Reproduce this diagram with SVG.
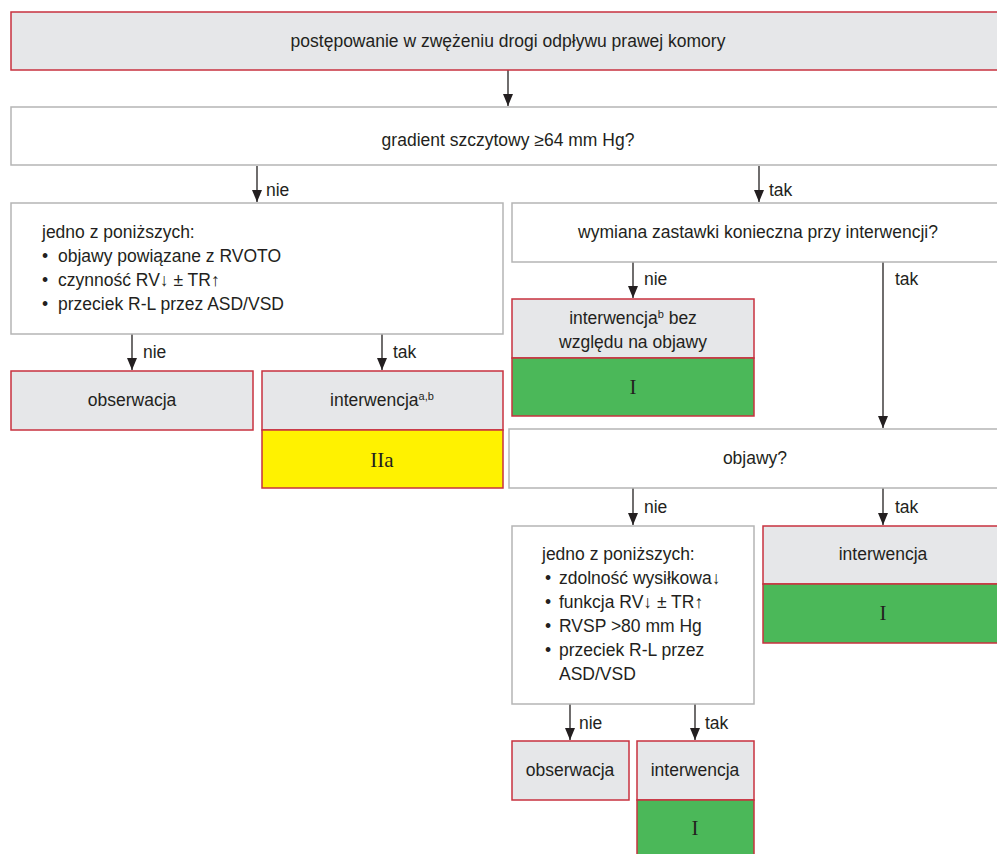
<svg xmlns="http://www.w3.org/2000/svg" width="997" height="854" viewBox="0 0 997 854">
<style>
text{font-family:"Liberation Sans","DejaVu Sans",sans-serif;font-size:17.5px;fill:#231f20}
.c{text-anchor:middle}
.cls{font-family:"Liberation Serif",serif;font-size:21px;text-anchor:middle}
.sup{font-size:11px}
.q{fill:#fff;stroke:#b5b5b5;stroke-width:1.5}
.r{fill:#e6e7e9;stroke:#c8323f;stroke-width:1.5}
.g{fill:#4bb859;stroke:#c8323f;stroke-width:1.5}
.y{fill:#fff200;stroke:#c8323f;stroke-width:1.5}
.ln{stroke:#231f20;stroke-width:1.3;fill:none;marker-end:url(#ah)}
</style>
<defs>
<marker id="ah" viewBox="0 0 12 10" refX="12" refY="5" markerWidth="12" markerHeight="11" markerUnits="userSpaceOnUse" orient="auto">
<path d="M0,0 L12,5 L0,10 z" fill="#231f20"/>
</marker>
</defs>
<rect width="997" height="854" fill="#fff"/>
<g id="connectors">
<line class="ln" x1="508" y1="70" x2="508" y2="106"/>
<line class="ln" x1="257" y1="166" x2="257" y2="202"/>
<text x="266" y="196">nie</text>
<line class="ln" x1="759" y1="166" x2="759" y2="202"/>
<text x="769" y="196">tak</text>
<line class="ln" x1="132" y1="334" x2="132" y2="370"/>
<text x="143" y="358">nie</text>
<line class="ln" x1="382" y1="334" x2="382" y2="370"/>
<text x="393" y="358">tak</text>
<line class="ln" x1="633" y1="262" x2="633" y2="298"/>
<text x="644" y="285">nie</text>
<line class="ln" x1="883" y1="262" x2="883" y2="428"/>
<text x="895" y="285">tak</text>
<line class="ln" x1="633" y1="488" x2="633" y2="525"/>
<text x="644" y="513">nie</text>
<line class="ln" x1="883" y1="488" x2="883" y2="525"/>
<text x="895" y="513">tak</text>
<line class="ln" x1="570" y1="704" x2="570" y2="740"/>
<text x="579" y="729">nie</text>
<line class="ln" x1="695" y1="704" x2="695" y2="740"/>
<text x="705" y="729">tak</text>
</g>
<g id="n1">
<rect class="r" x="11" y="12" width="995" height="58"/>
<text class="c" x="508" y="47">postępowanie w zwężeniu drogi odpływu prawej komory</text>
</g>
<g id="n2">
<rect class="q" x="11" y="107" width="995" height="58"/>
<text class="c" x="508" y="146">gradient szczytowy ≥64 mm Hg?</text>
</g>
<g id="n3">
<rect class="q" x="11" y="203" width="492" height="131"/>
<text x="42" y="238">jedno z poniższych:</text>
<text x="42" y="262">•</text><text x="58" y="262">objawy powiązane z RVOTO</text>
<text x="42" y="286">•</text><text x="58" y="286">czynność RV↓ ± TR↑</text>
<text x="42" y="310">•</text><text x="58" y="310">przeciek R-L przez ASD/VSD</text>
</g>
<g id="n4">
<rect class="r" x="11" y="371" width="242" height="59"/>
<text class="c" x="132" y="406">obserwacja</text>
</g>
<g id="n5">
<rect class="r" x="262" y="371" width="241" height="59"/>
<rect class="y" x="262" y="430" width="241" height="58"/>
<text class="c" x="382" y="406">interwencja<tspan class="sup" dy="-6">a,b</tspan></text>
<text class="cls" x="382" y="467">IIa</text>
</g>
<g id="n6">
<rect class="q" x="512" y="203" width="495" height="59"/>
<text class="c" x="758" y="238">wymiana zastawki konieczna przy interwencji?</text>
</g>
<g id="n7">
<rect class="r" x="512" y="299" width="242" height="59"/>
<rect class="g" x="512" y="358" width="242" height="58"/>
<text class="c" x="633" y="324">interwencja<tspan class="sup" dy="-6">b</tspan><tspan dy="6"> bez</tspan></text>
<text class="c" x="633" y="348">względu na objawy</text>
<text class="cls" x="633" y="394">I</text>
</g>
<g id="n8">
<rect class="q" x="509" y="429" width="498" height="59"/>
<text class="c" x="755" y="464">objawy?</text>
</g>
<g id="n9">
<rect class="q" x="512" y="526" width="242" height="178"/>
<text x="542" y="560">jedno z poniższych:</text>
<text x="545" y="584">•</text><text x="559" y="584">zdolność wysiłkowa↓</text>
<text x="545" y="608">•</text><text x="559" y="608">funkcja RV↓ ± TR↑</text>
<text x="545" y="632">•</text><text x="559" y="632">RVSP &gt;80 mm Hg</text>
<text x="545" y="656">•</text><text x="559" y="656">przeciek R-L przez</text>
<text x="559" y="680">ASD/VSD</text>
</g>
<g id="n10">
<rect class="r" x="763" y="526" width="244" height="58"/>
<rect class="g" x="763" y="584" width="244" height="59"/>
<text class="c" x="883" y="560">interwencja</text>
<text class="cls" x="883" y="620">I</text>
</g>
<g id="n11">
<rect class="r" x="512" y="741" width="117" height="59"/>
<text class="c" x="570" y="776">obserwacja</text>
</g>
<g id="n12">
<rect class="r" x="637" y="741" width="117" height="59"/>
<rect class="g" x="637" y="800" width="117" height="60"/>
<text class="c" x="695" y="776">interwencja</text>
<text class="cls" x="695" y="835">I</text>
</g>
</svg>
